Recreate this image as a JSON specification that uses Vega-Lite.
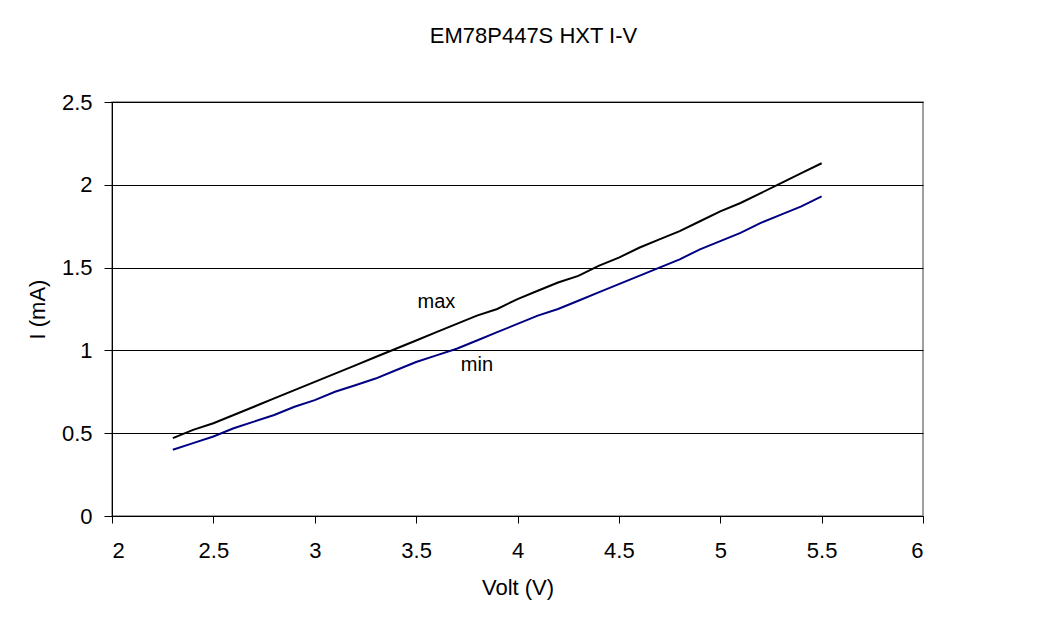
{
  "$schema": "https://vega.github.io/schema/vega-lite/v6.json",
  "width": 811,
  "height": 414,
  "autosize": {"type": "none"},
  "padding": {"left": 112, "top": 102, "right": 135, "bottom": 103},
  "background": "white",
  "config": {
    "font": "Liberation Sans",
    "view": {"stroke": "#808080", "strokeWidth": 1.5},
    "axis": {
      "labelFont": "Liberation Sans",
      "titleFont": "Liberation Sans",
      "labelFontSize": 22,
      "titleFontSize": 22,
      "titleFontWeight": "normal",
      "labelColor": "black",
      "titleColor": "black",
      "domainColor": "black",
      "tickColor": "black",
      "domainWidth": 1,
      "tickWidth": 1
    }
  },
  "title": {
    "text": "EM78P447S HXT I-V",
    "font": "Liberation Sans",
    "fontSize": 22,
    "fontWeight": "normal",
    "color": "black",
    "anchor": "middle",
    "frame": "group",
    "dx": 16,
    "offset": 43
  },
  "datasets": {
    "curves": [
      {"V": 2.3, "I": 0.47, "series": "max"},
      {"V": 2.4, "I": 0.52, "series": "max"},
      {"V": 2.5, "I": 0.56, "series": "max"},
      {"V": 2.6, "I": 0.61, "series": "max"},
      {"V": 2.7, "I": 0.66, "series": "max"},
      {"V": 2.8, "I": 0.71, "series": "max"},
      {"V": 2.9, "I": 0.76, "series": "max"},
      {"V": 3.0, "I": 0.81, "series": "max"},
      {"V": 3.1, "I": 0.86, "series": "max"},
      {"V": 3.2, "I": 0.91, "series": "max"},
      {"V": 3.3, "I": 0.96, "series": "max"},
      {"V": 3.4, "I": 1.01, "series": "max"},
      {"V": 3.5, "I": 1.06, "series": "max"},
      {"V": 3.6, "I": 1.11, "series": "max"},
      {"V": 3.7, "I": 1.16, "series": "max"},
      {"V": 3.8, "I": 1.21, "series": "max"},
      {"V": 3.9, "I": 1.25, "series": "max"},
      {"V": 4.0, "I": 1.31, "series": "max"},
      {"V": 4.1, "I": 1.36, "series": "max"},
      {"V": 4.2, "I": 1.41, "series": "max"},
      {"V": 4.3, "I": 1.45, "series": "max"},
      {"V": 4.4, "I": 1.51, "series": "max"},
      {"V": 4.5, "I": 1.56, "series": "max"},
      {"V": 4.6, "I": 1.62, "series": "max"},
      {"V": 4.7, "I": 1.67, "series": "max"},
      {"V": 4.8, "I": 1.72, "series": "max"},
      {"V": 4.9, "I": 1.78, "series": "max"},
      {"V": 5.0, "I": 1.84, "series": "max"},
      {"V": 5.1, "I": 1.89, "series": "max"},
      {"V": 5.2, "I": 1.95, "series": "max"},
      {"V": 5.3, "I": 2.01, "series": "max"},
      {"V": 5.4, "I": 2.07, "series": "max"},
      {"V": 5.5, "I": 2.13, "series": "max"},
      {"V": 2.3, "I": 0.40, "series": "min"},
      {"V": 2.4, "I": 0.44, "series": "min"},
      {"V": 2.5, "I": 0.48, "series": "min"},
      {"V": 2.6, "I": 0.53, "series": "min"},
      {"V": 2.7, "I": 0.57, "series": "min"},
      {"V": 2.8, "I": 0.61, "series": "min"},
      {"V": 2.9, "I": 0.66, "series": "min"},
      {"V": 3.0, "I": 0.70, "series": "min"},
      {"V": 3.1, "I": 0.75, "series": "min"},
      {"V": 3.2, "I": 0.79, "series": "min"},
      {"V": 3.3, "I": 0.83, "series": "min"},
      {"V": 3.4, "I": 0.88, "series": "min"},
      {"V": 3.5, "I": 0.93, "series": "min"},
      {"V": 3.6, "I": 0.97, "series": "min"},
      {"V": 3.7, "I": 1.01, "series": "min"},
      {"V": 3.8, "I": 1.06, "series": "min"},
      {"V": 3.9, "I": 1.11, "series": "min"},
      {"V": 4.0, "I": 1.16, "series": "min"},
      {"V": 4.1, "I": 1.21, "series": "min"},
      {"V": 4.2, "I": 1.25, "series": "min"},
      {"V": 4.3, "I": 1.30, "series": "min"},
      {"V": 4.4, "I": 1.35, "series": "min"},
      {"V": 4.5, "I": 1.40, "series": "min"},
      {"V": 4.6, "I": 1.45, "series": "min"},
      {"V": 4.7, "I": 1.50, "series": "min"},
      {"V": 4.8, "I": 1.55, "series": "min"},
      {"V": 4.9, "I": 1.61, "series": "min"},
      {"V": 5.0, "I": 1.66, "series": "min"},
      {"V": 5.1, "I": 1.71, "series": "min"},
      {"V": 5.2, "I": 1.77, "series": "min"},
      {"V": 5.3, "I": 1.82, "series": "min"},
      {"V": 5.4, "I": 1.87, "series": "min"},
      {"V": 5.5, "I": 1.93, "series": "min"}
    ],
    "labels": [
      {"V": 3.6, "I": 1.256, "label": "max"},
      {"V": 3.8, "I": 0.876, "label": "min"}
    ]
  },
  "layer": [
    {
      "data": {"name": "curves"},
      "mark": {"type": "line", "strokeWidth": 2},
      "encoding": {
        "x": {
          "field": "V",
          "type": "quantitative",
          "scale": {"domain": [2, 6], "nice": false, "zero": false},
          "axis": {
            "title": "Volt (V)",
            "values": [2, 2.5, 3, 3.5, 4, 4.5, 5, 5.5, 6],
            "format": "~g",
            "grid": false,
            "tickSize": 7,
            "labelPadding": 17,
            "titlePadding": 16
          }
        },
        "y": {
          "field": "I",
          "type": "quantitative",
          "scale": {"domain": [0, 2.5], "nice": false},
          "axis": {
            "title": "I (mA)",
            "values": [0, 0.5, 1, 1.5, 2, 2.5],
            "format": "~g",
            "grid": true,
            "gridColor": "black",
            "gridWidth": 1,
            "gridOpacity": 1,
            "tickSize": 8,
            "labelPadding": 12,
            "titlePadding": 12
          }
        },
        "color": {
          "field": "series",
          "type": "nominal",
          "scale": {"domain": ["max", "min"], "range": ["#000000", "#000080"]},
          "legend": null
        },
        "detail": {"field": "series"}
      }
    },
    {
      "data": {"name": "labels"},
      "mark": {"type": "text", "font": "Liberation Sans", "fontSize": 20, "color": "black", "align": "center", "baseline": "alphabetic"},
      "encoding": {
        "x": {"field": "V", "type": "quantitative"},
        "y": {"field": "I", "type": "quantitative"},
        "text": {"field": "label"}
      }
    }
  ]
}
